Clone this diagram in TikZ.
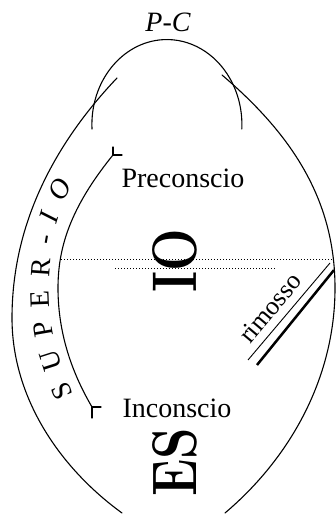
\documentclass[tikz,border=0pt]{standalone}
\usepackage{fontspec}
\newfontfamily\lblfont{Liberation Serif}
\usepackage{tikz}
\usetikzlibrary{decorations.text}

\begin{document}
\begin{tikzpicture}[
  x=1pt, y=1pt,
  line/.style={line width=1.1pt, line cap=round},
  lbl/.style={font=\lblfont\fontsize{28}{30}\selectfont, inner sep=0pt},
  big/.style={font=\fontsize{63}{63}\selectfont\bfseries, inner sep=0pt, rotate=90, xscale=0.8},
  sep/.style={line width=1pt, dash pattern=on 1.4pt off 1.6pt}
]
\useasboundingbox (0,0) rectangle (336,518);

\coordinate (seTop) at (113,363);
\coordinate (seBot) at (92,111);
\coordinate (dotA) at (61,258);
\coordinate (dotB) at (333,258);
\coordinate (dotC) at (115,249);
\coordinate (dotD) at (275,249);
\coordinate (rimA) at (248,158);
\coordinate (rimB) at (330,255);
\coordinate (rimC) at (257,153);
\coordinate (rimD) at (334,248);

\draw[line] (122,5) .. controls (60,50) and (12,120) .. (12,200) .. controls (12,300) and (60,380) .. (117,440);
\draw[line] (225,5) .. controls (290,60) and (335,140) .. (335,230) .. controls (335,320) and (290,385) .. (222,443);
\draw[line] (92,389) arc[start angle=183, end angle=-3, x radius=75, y radius=85];
\draw[line] (seBot) .. controls (75,140) and (58,180) .. (58,230) .. controls (58,270) and (70,310) .. (seTop);
\draw[line] (seTop) -- ++(0,8);
\draw[line] (seTop) -- ++(9,0);
\draw[line] (seBot) -- ++(0,-11);
\draw[line] (seBot) -- ++(9,0);

\draw[sep] (dotA) -- (dotB);
\draw[sep] (dotC) -- (dotD);
\draw[line width=0.9pt] (rimA) -- (rimB);
\draw[line width=2.5pt] (rimC) -- (rimD);

{\lblfont\fontsize{28}{28}\selectfont
\path[decorate, decoration={text along path, text align={fit to path},
  text={SUPER-|\itshape|IO}}]
  (74,124) .. controls (54,165) and (48,200) .. (49,235) .. controls (50,275) and (57,305) .. (73,333);
}

\node[lbl] (pc) at (168,496) {\itshape P-C};
\node[lbl] (pre) at (183,340) {Preconscio};
\node[lbl] (inc) at (177,110) {Inconscio};
\node[big] (io) at (175,257) {IO};
\node[big] (es) at (175,56) {ES};
\node[lbl, font=\lblfont\fontsize{26}{28}\selectfont, rotate=50] (rim) at (270,210) {rimosso};
\end{tikzpicture}
\end{document}
